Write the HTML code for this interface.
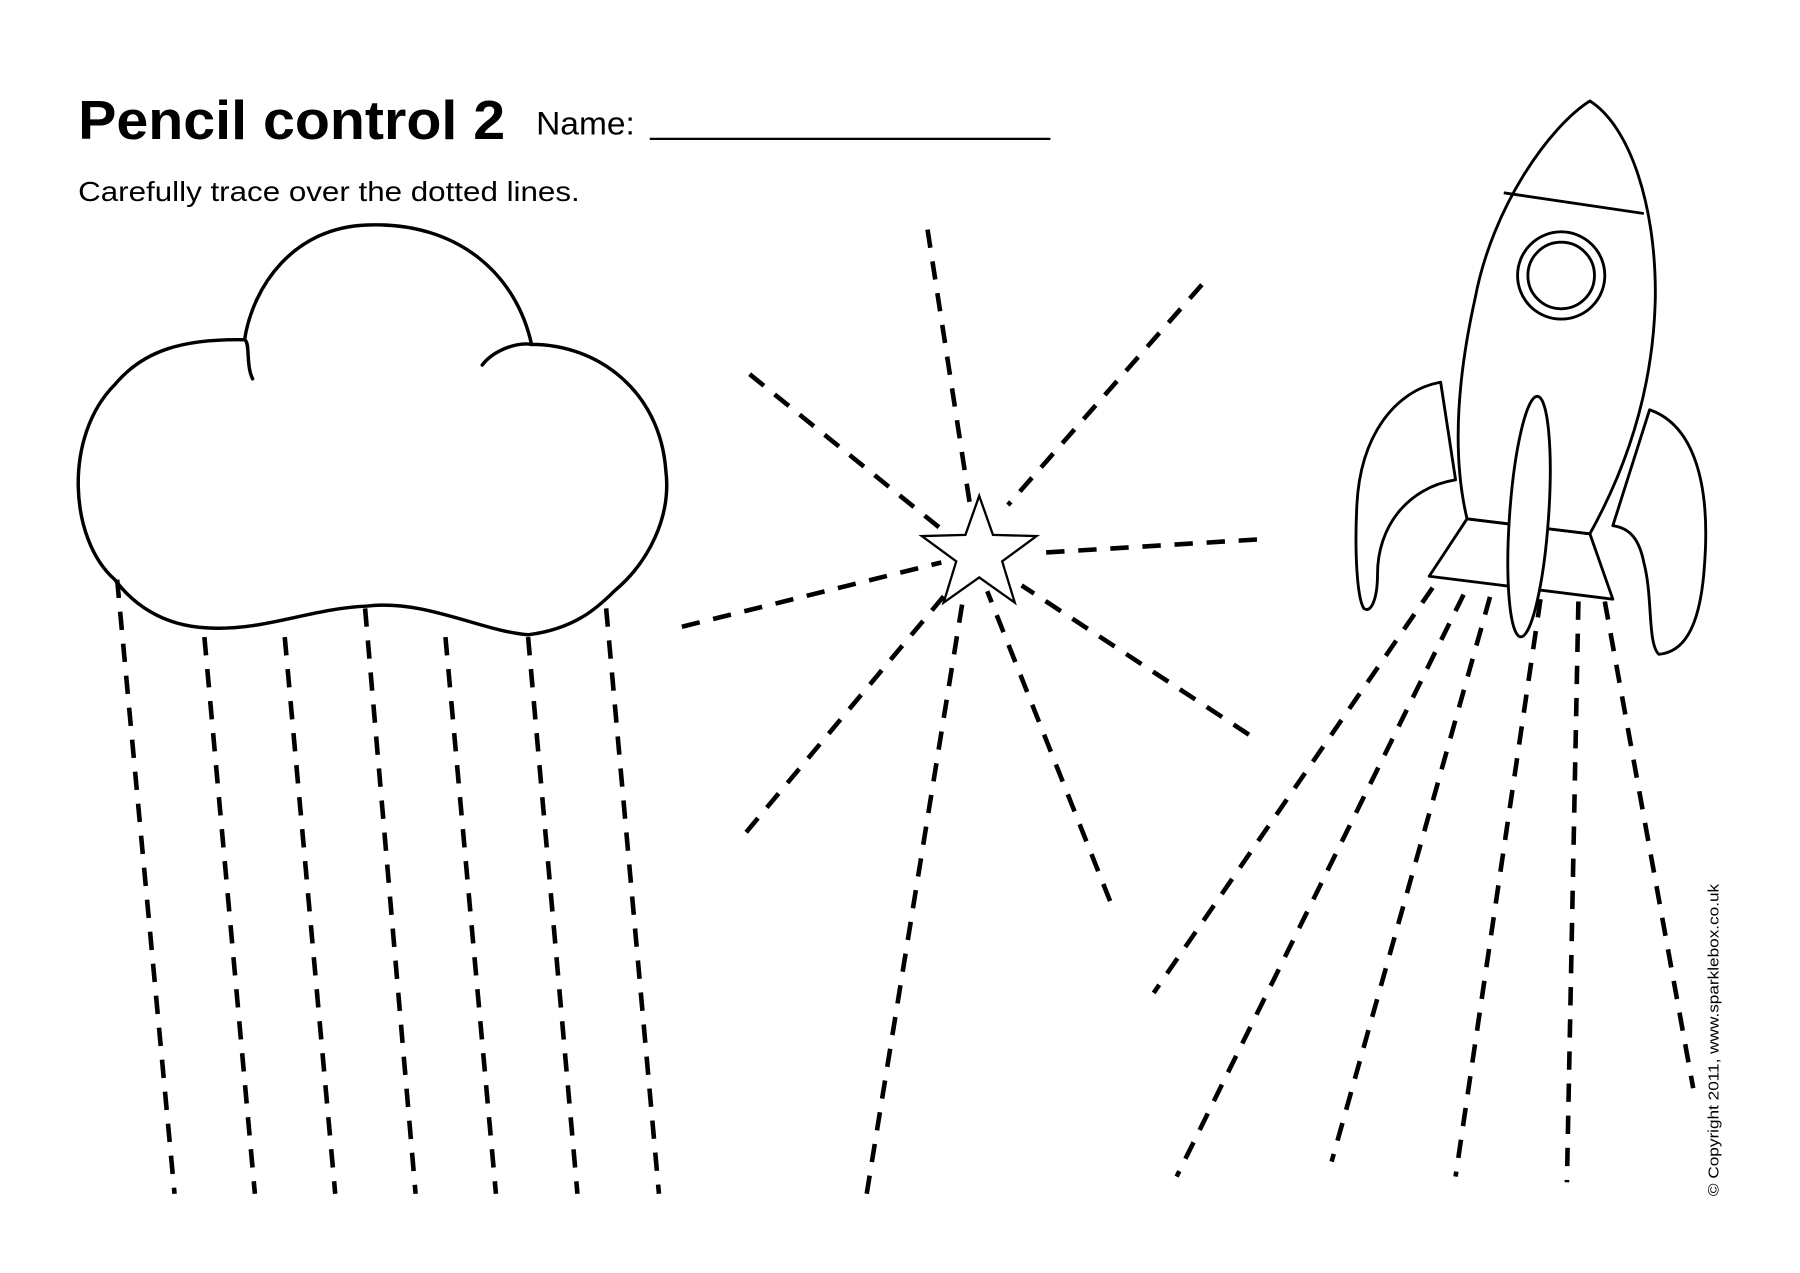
<!DOCTYPE html>
<html><head><meta charset="utf-8"><style>
html,body{margin:0;padding:0;background:#fff;}
svg{display:block}
</style></head><body>
<svg width="1800" height="1273" viewBox="0 0 1568 1109" xmlns="http://www.w3.org/2000/svg">
<rect width="1568" height="1109" fill="#fff"/>
<text x="68" y="121" font-family="Liberation Sans, sans-serif" font-weight="bold" font-size="48" textLength="372" lengthAdjust="spacingAndGlyphs" fill="#000">Pencil control 2</text>
<text x="467" y="117" font-family="Liberation Sans, sans-serif" font-size="28" textLength="86" lengthAdjust="spacingAndGlyphs" fill="#000">Name:</text>
<line x1="566" y1="121" x2="915" y2="121" stroke="#000" stroke-width="2"/>
<text x="68" y="175" font-family="Liberation Sans, sans-serif" font-size="24" textLength="437" lengthAdjust="spacingAndGlyphs" fill="#000">Carefully trace over the dotted lines.</text>
<text transform="translate(1497,1042) rotate(-90)" font-family="Liberation Sans, sans-serif" font-size="13" textLength="272" lengthAdjust="spacingAndGlyphs" fill="#000">© Copyright 2011, www.sparklebox.co.uk</text>

<g fill="none" stroke="#000" stroke-width="3" stroke-linecap="round">
<path d="M100,505 C60,470 55,380 100,335 C125,305 160,295 213,296 C220,250 255,198 320,196 C400,193 450,240 463,300 C520,300 575,340 580,410 C585,450 565,490 535,515 C520,530 500,548 460,553 C420,550 370,522 320,528 C270,530 230,550 180,547 C140,545 115,525 100,505 Z"/>
<path d="M213,296 C218,298 214,318 220,330"/>
<path d="M420,318 C430,305 450,298 463,300"/>
</g>

<g stroke="#000" stroke-width="4" stroke-dasharray="16,12" fill="none">
<line x1="102" y1="505" x2="152" y2="1040"/>
<line x1="178" y1="555" x2="222" y2="1040"/>
<line x1="248" y1="555" x2="292" y2="1040"/>
<line x1="318" y1="530" x2="362" y2="1040"/>
<line x1="388" y1="555" x2="432" y2="1040"/>
<line x1="460" y1="555" x2="503" y2="1040"/>
<line x1="528" y1="530" x2="574" y2="1040"/>
</g>

<g stroke="#000" stroke-width="4" stroke-dasharray="16,12" fill="none">
<line x1="808" y1="200" x2="845" y2="440"/>
<line x1="1047" y1="248" x2="878" y2="440"/>
<line x1="1095" y1="470" x2="900" y2="482"/>
<line x1="1088" y1="640" x2="890" y2="510"/>
<line x1="967" y1="785" x2="860" y2="515"/>
<line x1="755" y1="1040" x2="840" y2="515"/>
<line x1="650" y1="725" x2="830" y2="510"/>
<line x1="594" y1="546" x2="820" y2="490"/>
<line x1="653" y1="326" x2="825" y2="465"/>
</g>
<polygon fill="#fff" stroke="#000" stroke-width="2" points="853,432 865,466 903,467 873,489 884,525 853,503 822,525 833,489 803,467 841,466"/>

<g stroke="#000" stroke-width="4" stroke-dasharray="16,12" fill="none">
<line x1="1248" y1="512" x2="1005" y2="865"/>
<line x1="1275" y1="518" x2="1025" y2="1025"/>
<line x1="1298" y1="520" x2="1160" y2="1012"/>
<line x1="1342" y1="522" x2="1268" y2="1025"/>
<line x1="1375" y1="524" x2="1365" y2="1030"/>
<line x1="1398" y1="524" x2="1475" y2="948"/>
</g>

<g fill="#fff" stroke="#000" stroke-width="2.5" stroke-linejoin="round">
<path d="M1255,333 C1215,340 1185,380 1182,440 C1180,480 1182,520 1188,530 C1195,535 1200,520 1200,500 C1200,460 1225,425 1268,418 Z"/>
<path d="M1437,357 C1475,370 1490,420 1485,490 C1482,540 1470,568 1445,570 C1435,560 1440,520 1432,490 C1428,470 1420,460 1405,458 Z"/>
<path d="M1278,452 L1385,465 L1405,522 L1245,502 Z"/>
<path d="M1385,88 C1350,110 1300,180 1285,260 C1265,350 1268,410 1278,452 L1385,465 C1410,420 1440,350 1442,260 C1443,180 1420,110 1385,88 Z"/>
<line x1="1310" y1="168" x2="1432" y2="186"/>
<circle cx="1360" cy="240" r="38"/>
<circle cx="1360" cy="240" r="29"/>
<ellipse cx="1332" cy="450" rx="17" ry="105" transform="rotate(4 1332 450)"/>
</g>
</svg>
</body></html>
